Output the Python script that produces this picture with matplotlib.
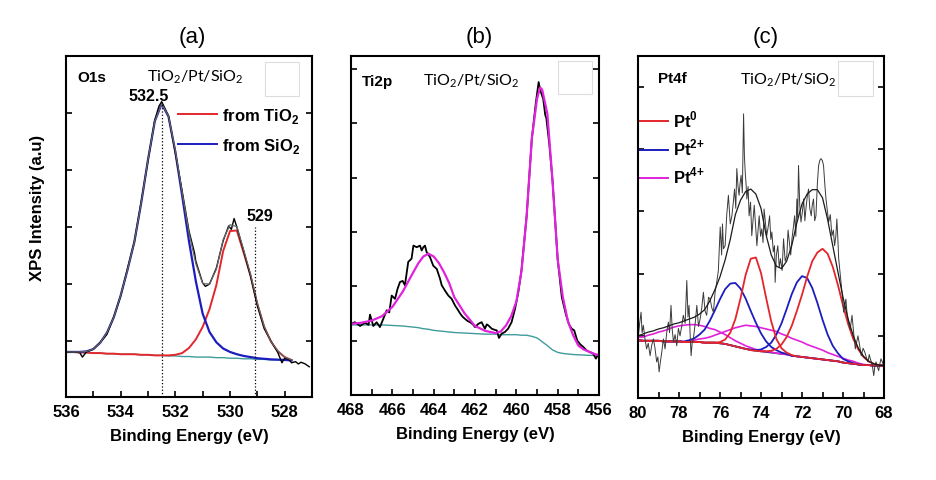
import matplotlib
matplotlib.use('Agg')
import matplotlib.pyplot as plt
from matplotlib.ticker import MultipleLocator
from matplotlib.patches import Rectangle

plt.rcParams['font.family'] = 'Liberation Sans'
plt.rcParams['font.weight'] = 'bold'

# ---------------- (a) O1s ----------------
o1s_fit_ev = [536.0, 535.75, 535.5, 535.25, 535.0, 534.75, 534.5, 534.25, 534.0, 533.75,
              533.5, 533.25, 533.0, 532.75, 532.5, 532.25, 532.0, 531.75, 531.5, 531.25,
              531.0, 530.75, 530.5, 530.25, 530.0, 529.75, 529.5, 529.25, 529.0, 528.75,
              528.5, 528.25, 528.0, 527.75]
o1s_base = [0.81, 0.81, 0.80, 0.80, 0.79, 0.79, 0.78, 0.78, 0.77, 0.77,
            0.77, 0.76, 0.76, 0.75, 0.75, 0.74, 0.74, 0.73, 0.73, 0.72,
            0.72, 0.72, 0.71, 0.71, 0.70, 0.70, 0.69, 0.69, 0.68, 0.68,
            0.67, 0.67, 0.67, 0.66]
o1s_sio2 = [0.81, 0.81, 0.81, 0.82, 0.86, 0.97, 1.15, 1.42, 1.80, 2.25,
            2.74, 3.42, 4.18, 4.86, 5.16, 4.94, 4.32, 3.55, 2.75, 2.05,
            1.48, 1.16, 0.98, 0.87, 0.81, 0.77, 0.74, 0.72, 0.70, 0.69,
            0.68, 0.675, 0.67, 0.66]
o1s_tio2 = [0.81, 0.81, 0.80, 0.80, 0.79, 0.79, 0.78, 0.78, 0.77, 0.77,
            0.77, 0.76, 0.76, 0.75, 0.75, 0.75, 0.76, 0.79, 0.88, 1.03,
            1.25, 1.56, 1.98, 2.58, 2.93, 2.94, 2.55, 2.15, 1.65, 1.25,
            0.99, 0.82, 0.72, 0.67]
o1s_envelope = [0.81, 0.81, 0.81, 0.82, 0.86, 0.97, 1.15, 1.42, 1.80, 2.25,
                2.74, 3.42, 4.18, 4.86, 5.16, 4.95, 4.34, 3.61, 2.90, 2.36,
                2.01, 2.00, 2.26, 2.78, 3.04, 3.01, 2.60, 2.18, 1.67, 1.26,
                0.99, 0.83, 0.72, 0.67]
o1s_data_ev = [536.0, 535.75, 535.5, 535.4, 535.25, 535.0, 534.75, 534.6, 534.5, 534.25,
               534.0, 533.75, 533.5, 533.25, 533.0, 532.75, 532.6, 532.5, 532.25, 532.0,
               531.75, 531.5, 531.3, 531.25, 531.0, 530.9, 530.75, 530.5, 530.25, 530.05,
               529.95, 529.85, 529.75, 529.5, 529.25, 529.0, 528.75, 528.5, 528.25, 528.1,
               528.0, 527.85, 527.75, 527.6, 527.5, 527.4, 527.25, 527.1]
o1s_data = [0.80, 0.81, 0.80, 0.72, 0.81, 0.86, 0.98, 1.06, 1.12, 1.43,
            1.79, 2.27, 2.74, 3.44, 4.17, 4.88, 5.12, 5.20, 4.95, 4.30,
            3.63, 2.93, 2.55, 2.40, 2.02, 1.96, 2.00, 2.28, 2.76, 3.02,
            2.96, 3.15, 3.00, 2.58, 2.14, 1.62, 1.22, 1.00, 0.80, 0.62,
            0.70, 0.68, 0.62, 0.64, 0.60, 0.63, 0.60, 0.55]
o1s_marker_ev = [532.5, 529.1]
o1s_marker_top = [5.19, 3.0]
o1s_marker_text = ['532.5', '529']

# ---------------- (b) Ti2p ----------------
ti_fit_ev = [468.0, 467.5, 467.0, 466.5, 466.0, 465.5, 465.0, 464.75, 464.5, 464.25,
             464.0, 463.75, 463.5, 463.25, 463.0, 462.5, 462.0, 461.5, 461.0, 460.75,
             460.5, 460.25, 460.0, 459.75, 459.5, 459.25, 459.0, 458.85, 458.75, 458.5,
             458.25, 458.0, 457.75, 457.5, 457.25, 457.0, 456.75, 456.5, 456.25, 456.0]
ti_base = [1.29, 1.29, 1.29, 1.29, 1.28, 1.27, 1.25, 1.24, 1.22, 1.21,
           1.19, 1.18, 1.17, 1.16, 1.15, 1.14, 1.13, 1.12, 1.12, 1.11,
           1.11, 1.11, 1.11, 1.10, 1.10, 1.08, 1.05, 1.01, 0.98, 0.91,
           0.83, 0.785, 0.765, 0.755, 0.745, 0.74, 0.735, 0.73, 0.73, 0.73]
ti_envelope = [1.31, 1.33, 1.37, 1.45, 1.62, 1.90, 2.25, 2.42, 2.55, 2.60,
               2.55, 2.43, 2.26, 2.06, 1.80, 1.50, 1.27, 1.18, 1.14, 1.17,
               1.28, 1.45, 1.72, 2.28, 3.30, 4.72, 5.45, 5.66, 5.62, 5.18,
               3.95, 2.50, 1.80, 1.35, 1.10, 0.91, 0.84, 0.80, 0.76, 0.73]
ti_data_ev = [468.0, 467.81, 467.56, 467.32, 467.15, 467.08, 466.92, 466.76, 466.6, 466.44,
              466.27, 466.15, 466.03, 465.87, 465.75, 465.63, 465.5, 465.39, 465.23, 465.07,
              464.98, 464.82, 464.66, 464.58, 464.5, 464.42, 464.34, 464.18, 464.02, 463.85,
              463.7, 463.61, 463.45, 463.29, 463.13, 462.97, 462.85, 462.72, 462.6, 462.48,
              462.35, 462.24, 462.1, 462.0, 461.84, 461.68, 461.52, 461.43, 461.35, 461.19,
              461.05, 460.95, 460.84, 460.71, 460.55, 460.4, 460.23, 460.06, 459.9, 459.75,
              459.5, 459.25, 459.05, 458.92, 458.85, 458.7, 458.6, 458.55, 458.4, 458.25,
              458.0, 457.8, 457.6, 457.45, 457.32, 457.2, 457.05, 456.9, 456.75, 456.6,
              456.45, 456.3, 456.15, 456.05]
ti_data = [1.31, 1.34, 1.27, 1.33, 1.29, 1.48, 1.27, 1.34, 1.25, 1.40,
           1.56, 1.52, 1.83, 1.77, 1.95, 2.08, 2.10, 2.02, 2.45, 2.51,
           2.75, 2.72, 2.75, 2.66, 2.72, 2.75, 2.63, 2.54, 2.38, 2.32,
           2.15, 2.02, 1.92, 1.83, 1.77, 1.65, 1.58, 1.50, 1.44, 1.40,
           1.36, 1.34, 1.30, 1.25, 1.31, 1.34, 1.22, 1.30, 1.28, 1.22,
           1.20, 1.19, 1.05, 1.13, 1.16, 1.22, 1.34, 1.59, 1.90, 2.30,
           3.30, 4.72, 5.40, 5.76, 5.62, 5.45, 5.15, 5.10, 4.60, 3.95,
           2.50, 1.80, 1.48, 1.30, 1.22, 1.19, 1.00, 0.93, 0.88, 0.82,
           0.79, 0.77, 0.67, 0.74]

# ---------------- (c) Pt4f ----------------
pt_fit_ev = [80.0, 79.75, 79.5, 79.25, 79.0, 78.75, 78.5, 78.25, 78.0, 77.75,
             77.5, 77.25, 77.0, 76.75, 76.5, 76.25, 76.0, 75.75, 75.5, 75.25,
             75.0, 74.75, 74.5, 74.25, 74.0, 73.75, 73.5, 73.25, 73.0, 72.75,
             72.5, 72.25, 72.0, 71.75, 71.5, 71.25, 71.0, 70.75, 70.5, 70.25,
             70.0, 69.75, 69.5, 69.25, 69.0, 68.75, 68.5, 68.25, 68.0]
pt_base = [0.93, 0.92, 0.92, 0.92, 0.92, 0.91, 0.91, 0.91, 0.91, 0.90,
           0.90, 0.90, 0.90, 0.89, 0.89, 0.89, 0.88, 0.87, 0.85, 0.83,
           0.81, 0.79, 0.77, 0.76, 0.75, 0.74, 0.73, 0.72, 0.71, 0.70,
           0.68, 0.67, 0.66, 0.65, 0.64, 0.63, 0.62, 0.61, 0.60, 0.59,
           0.57, 0.56, 0.55, 0.54, 0.53, 0.53, 0.52, 0.52, 0.52]
pt0_a = [0.93, 0.92, 0.92, 0.92, 0.92, 0.91, 0.91, 0.91, 0.91, 0.90,
         0.90, 0.90, 0.90, 0.89, 0.89, 0.89, 0.88, 0.87, 0.85, 0.83,
         0.81, 0.79, 0.77, 0.76, 0.75, 0.75, 0.76, 0.79, 0.86, 0.98,
         1.16, 1.40, 1.66, 1.95, 2.20, 2.34, 2.40, 2.32, 2.11, 1.82,
         1.49, 1.19, 0.95, 0.78, 0.66, 0.59, 0.55, 0.53, 0.52]
pt0_b = [0.93, 0.92, 0.92, 0.92, 0.92, 0.91, 0.91, 0.91, 0.91, 0.90,
         0.90, 0.90, 0.90, 0.89, 0.89, 0.89, 0.90, 0.94, 1.05, 1.27,
         1.60, 1.98, 2.24, 2.26, 2.01, 1.61, 1.23, 0.95, 0.80, 0.73,
         0.69, 0.67, 0.66, 0.65, 0.64, 0.63, 0.62, 0.61, 0.60, 0.59,
         0.57, 0.56, 0.55, 0.54, 0.53, 0.53, 0.52, 0.52, 0.52]
pt2_a = [0.93, 0.92, 0.92, 0.92, 0.92, 0.91, 0.91, 0.91, 0.91, 0.90,
         0.90, 0.90, 0.90, 0.89, 0.89, 0.89, 0.88, 0.87, 0.85, 0.83,
         0.81, 0.79, 0.78, 0.77, 0.78, 0.82, 0.89, 1.02, 1.20, 1.43,
         1.67, 1.86, 1.96, 1.93, 1.77, 1.53, 1.26, 1.02, 0.84, 0.72,
         0.63, 0.59, 0.56, 0.54, 0.53, 0.53, 0.52, 0.52, 0.52]
pt2_b = [0.93, 0.92, 0.92, 0.92, 0.92, 0.91, 0.91, 0.91, 0.91, 0.91,
         0.93, 0.96, 1.02, 1.10, 1.24, 1.41, 1.59, 1.75, 1.84, 1.85,
         1.76, 1.60, 1.40, 1.21, 1.04, 0.91, 0.82, 0.77, 0.73, 0.71,
         0.68, 0.67, 0.66, 0.65, 0.64, 0.63, 0.62, 0.61, 0.60, 0.59,
         0.57, 0.56, 0.55, 0.54, 0.53, 0.53, 0.52, 0.52, 0.52]
pt4_a = [0.93, 0.92, 0.92, 0.92, 0.92, 0.91, 0.91, 0.91, 0.91, 0.90,
         0.91, 0.93, 0.95, 0.96, 0.98, 1.01, 1.04, 1.07, 1.10, 1.13,
         1.15, 1.17, 1.16, 1.15, 1.13, 1.11, 1.09, 1.07, 1.03, 1.00,
         0.96, 0.93, 0.90, 0.86, 0.83, 0.80, 0.77, 0.73, 0.70, 0.67,
         0.64, 0.61, 0.59, 0.56, 0.54, 0.53, 0.52, 0.52, 0.52]
pt4_b = [0.98, 0.98, 1.01, 1.03, 1.06, 1.08, 1.11, 1.14, 1.16, 1.17,
         1.18, 1.18, 1.17, 1.15, 1.12, 1.10, 1.06, 1.02, 0.97, 0.92,
         0.88, 0.84, 0.81, 0.78, 0.77, 0.75, 0.74, 0.72, 0.71, 0.70,
         0.68, 0.67, 0.66, 0.65, 0.64, 0.63, 0.62, 0.61, 0.60, 0.59,
         0.57, 0.56, 0.55, 0.54, 0.53, 0.53, 0.52, 0.52, 0.52]
pt_envelope = [1.00, 1.03, 1.06, 1.08, 1.11, 1.13, 1.16, 1.19, 1.21, 1.24,
               1.27, 1.30, 1.35, 1.42, 1.56, 1.74, 1.95, 2.22, 2.55, 2.95,
               3.18, 3.32, 3.36, 3.28, 3.05, 2.62, 2.30, 2.12, 2.08, 2.20,
               2.45, 2.82, 3.12, 3.28, 3.35, 3.35, 3.22, 2.87, 2.45, 2.03,
               1.62, 1.27, 1.00, 0.80, 0.67, 0.59, 0.55, 0.53, 0.52]
pt_data_ev = [79.98, 79.92, 79.85, 79.80, 79.74, 79.66, 79.58, 79.50, 79.41, 79.33,
              79.25, 79.17, 79.09, 79.03, 78.97, 78.90, 78.84, 78.76, 78.68, 78.60,
              78.52, 78.46, 78.39, 78.33, 78.27, 78.19, 78.11, 78.03, 77.95, 77.87,
              77.79, 77.70, 77.62, 77.56, 77.51, 77.46, 77.41, 77.36, 77.30, 77.21,
              77.13, 77.05, 76.97, 76.89, 76.81, 76.73, 76.65, 76.56, 76.48, 76.40,
              76.32, 76.24, 76.16, 76.08, 75.99, 75.92, 75.88, 75.83, 75.75, 75.67,
              75.59, 75.50, 75.42, 75.35, 75.29, 75.23, 75.18, 75.12, 75.07, 75.02,
              74.97, 74.91, 74.85, 74.81, 74.77, 74.73, 74.69, 74.63, 74.58, 74.51,
              74.45, 74.39, 74.33, 74.26, 74.20, 74.14, 74.09, 74.02, 73.96, 73.90,
              73.85, 73.78, 73.72, 73.65, 73.58, 73.52, 73.47, 73.40, 73.34, 73.31,
              73.25, 73.18, 73.11, 73.05, 72.97, 72.90, 72.82, 72.74, 72.68, 72.62,
              72.55, 72.49, 72.42, 72.36, 72.30, 72.25, 72.21, 72.17, 72.11, 72.05,
              71.98, 71.92, 71.86, 71.81, 71.74, 71.68, 71.62, 71.55, 71.50, 71.44,
              71.38, 71.32, 71.25, 71.19, 71.13, 71.08, 71.01, 70.95, 70.89, 70.83,
              70.76, 70.70, 70.62, 70.54, 70.47, 70.41, 70.35, 70.30, 70.25, 70.21,
              70.14, 70.08, 70.02, 69.97, 69.91, 69.86, 69.80, 69.73, 69.65, 69.56,
              69.48, 69.40, 69.33, 69.27, 69.19, 69.11, 69.02, 68.94, 68.86, 68.78,
              68.72, 68.67, 68.58, 68.50, 68.45, 68.39, 68.32, 68.26, 68.20, 68.15,
              68.08, 68.02]
pt_data = [1.00, 1.20, 1.38, 1.05, 1.17, 0.95, 0.79, 0.88, 0.68, 0.85,
           0.95, 0.80, 0.58, 0.66, 0.42, 0.60, 0.74, 0.95, 0.79, 1.05,
           1.22, 1.05, 1.49, 1.10, 0.90, 1.02, 0.84, 1.12, 1.00, 1.15,
           1.33, 1.20, 1.89, 1.30, 1.49, 1.05, 0.68, 0.88, 0.95, 1.20,
           1.49, 1.15, 1.27, 1.45, 1.70, 1.40, 1.33, 1.62, 1.59, 1.45,
           1.38, 1.70, 1.86, 2.05, 2.75, 2.30, 2.80, 2.40, 2.45, 2.95,
           3.26, 2.80, 2.93, 3.15, 3.36, 3.05, 3.69, 3.40, 3.26, 3.45,
           3.58, 3.30, 4.57, 3.90, 3.63, 3.45, 3.20, 3.40, 2.93, 3.15,
           2.61, 2.85, 3.10, 2.75, 2.45, 2.70, 2.93, 2.60, 2.72, 2.50,
           3.04, 2.80, 2.61, 2.75, 2.93, 2.55, 2.67, 2.35, 2.45, 1.86,
           2.30, 2.45, 2.10, 2.24, 2.05, 2.56, 2.20, 2.29, 2.70, 2.51,
           2.30, 2.56, 2.75, 2.93, 2.60, 3.20, 2.90, 3.74, 3.10, 2.83,
           3.00, 3.20, 2.85, 3.04, 3.25, 3.36, 3.05, 2.93, 3.10, 3.20,
           2.85, 2.93, 3.45, 3.74, 3.82, 3.85, 3.82, 3.74, 3.45, 3.20,
           3.00, 2.83, 2.95, 2.61, 2.70, 2.45, 2.60, 2.88, 2.55, 2.24,
           2.00, 1.81, 1.60, 1.38, 1.50, 1.59, 1.35, 1.22, 1.10, 1.33,
           1.05, 0.79, 0.90, 1.00, 0.85, 0.68, 0.80, 0.74, 0.65, 0.58,
           0.70, 0.63, 0.55, 0.36, 0.50, 0.58, 0.50, 0.44, 0.55, 0.63,
           0.58, 0.52]
pt_legend = [r'Pt$^\mathregular{0}$', r'Pt$^{\mathregular{2{+}}}$', r'Pt$^{\mathregular{4{+}}}$']

sample_text = r'TiO$_\mathregular{2}$/Pt/SiO$_\mathregular{2}$'

RED = '#e3262b'
BLUE = '#1d1dbf'
MAGENTA = '#e022dc'
TEAL = '#3f9c9c'


def style_axes(ax, xlim, ylim, yticks):
    ax.set_xlim(xlim)
    ax.set_ylim(ylim)
    ax.xaxis.set_major_locator(MultipleLocator(2))
    ax.xaxis.set_minor_locator(MultipleLocator(1))
    ax.set_yticks(yticks)
    ax.tick_params(axis='both', which='both', direction='in', length=4, width=1.2,
                   top=False, right=True, labelleft=False)
    ax.tick_params(axis='x', labelsize=12, pad=5)
    for s in ax.spines.values():
        s.set_linewidth(1.5)
    ax.set_xlabel('Binding Energy (eV)', fontsize=12, fontweight='bold')
    ax.xaxis.set_label_coords(0.5, -0.092)


def empty_box(ax, x0, y0, w, h):
    ax.add_patch(Rectangle((x0, y0), w, h, transform=ax.transAxes, facecolor='white',
                           edgecolor='#dddddd', lw=0.8, zorder=1))


fig = plt.figure(figsize=(9.36, 4.81), dpi=100)
ax_a = fig.add_axes([66 / 936, 83 / 481, 246 / 936, 341 / 481])
ax_b = fig.add_axes([351 / 936, 85 / 481, 248 / 936, 339 / 481])
ax_c = fig.add_axes([638 / 936, 82 / 481, 246 / 936, 342 / 481])

# ---- panel a ----
ax_a.plot(o1s_fit_ev, o1s_base, color=TEAL, lw=1.0)
ax_a.plot(o1s_fit_ev, o1s_tio2, color=RED, lw=1.4)
ax_a.plot(o1s_fit_ev, o1s_sio2, color=BLUE, lw=1.6)
ax_a.plot(o1s_data_ev, o1s_data, color='black', lw=1.0)
ax_a.plot(o1s_fit_ev, o1s_envelope, color='#666666', lw=0.9)
ax_a.vlines(o1s_marker_ev, 0.02, o1s_marker_top, colors='black', linestyles=':', lw=0.9)
ax_a.text(532.98, 5.22, o1s_marker_text[0], ha='center', va='baseline', fontsize=11.5)
ax_a.text(528.9, 3.12, o1s_marker_text[1], ha='center', va='baseline', fontsize=11.5)
style_axes(ax_a, (536, 527), (0.02, 6.0), [1, 2, 3, 4, 5])
ax_a.text(0.045, 0.927, 'O1s', transform=ax_a.transAxes, fontsize=11, va='baseline')
ax_a.text(0.329, 0.930, sample_text, transform=ax_a.transAxes, fontsize=11.5,
          fontweight='normal', family='Lato', va='baseline')
empty_box(ax_a, 0.809, 0.883, 0.138, 0.10)
ax_a.plot([0.455, 0.614], [0.830, 0.830], color=RED, lw=1.4, transform=ax_a.transAxes)
ax_a.plot([0.455, 0.614], [0.742, 0.742], color=BLUE, lw=1.4, transform=ax_a.transAxes)
ax_a.text(0.634, 0.812, r'from TiO$_\mathregular{2}$', transform=ax_a.transAxes,
          fontsize=12, va='baseline')
ax_a.text(0.634, 0.725, r'from SiO$_\mathregular{2}$', transform=ax_a.transAxes,
          fontsize=12, va='baseline')

# ---- panel b ----
ax_b.plot(ti_fit_ev, ti_base, color=TEAL, lw=1.0)
ax_b.plot(ti_data_ev, ti_data, color='black', lw=1.3)
ax_b.plot(ti_fit_ev, ti_envelope, color=MAGENTA, lw=1.6)
style_axes(ax_b, (468, 456), (0.0, 6.24), [1, 2, 3, 4, 5, 6])
ax_b.text(0.044, 0.914, 'Ti2p', transform=ax_b.transAxes, fontsize=11, va='baseline')
ax_b.text(0.290, 0.917, sample_text, transform=ax_b.transAxes, fontsize=11.5,
          fontweight='normal', family='Lato', va='baseline')
empty_box(ax_b, 0.835, 0.888, 0.137, 0.097)

# ---- panel c ----
ax_c.plot(pt_fit_ev, pt_base, color='#2b1f5e', lw=1.2)
ax_c.plot(pt_fit_ev, pt4_b, color=MAGENTA, lw=1.2)
ax_c.plot(pt_fit_ev, pt4_a, color=MAGENTA, lw=1.2)
ax_c.plot(pt_fit_ev, pt2_b, color=BLUE, lw=1.3)
ax_c.plot(pt_fit_ev, pt2_a, color=BLUE, lw=1.3)
ax_c.plot(pt_fit_ev, pt0_b, color=RED, lw=1.3)
ax_c.plot(pt_fit_ev, pt0_a, color=RED, lw=1.3)
ax_c.plot(pt_data_ev, pt_data, color='#3a3a3a', lw=0.7)
ax_c.plot(pt_fit_ev, pt_envelope, color='#1a1a1a', lw=0.9)
style_axes(ax_c, (80, 68), (0.0, 5.5), [1, 2, 3, 4, 5])
ax_c.text(0.081, 0.924, 'Pt4f', transform=ax_c.transAxes, fontsize=11, va='baseline')
ax_c.text(0.415, 0.921, sample_text, transform=ax_c.transAxes, fontsize=11.5,
          fontweight='normal', family='Lato', va='baseline')
empty_box(ax_c, 0.813, 0.883, 0.142, 0.102)
for lbl, col, ly, ty in zip(pt_legend, [RED, BLUE, MAGENTA],
                            [0.810, 0.725, 0.643], [0.794, 0.711, 0.629]):
    ax_c.plot([0.0, 0.122], [ly, ly], color=col, lw=1.4, transform=ax_c.transAxes)
    ax_c.text(0.142, ty, lbl, transform=ax_c.transAxes, fontsize=12, va='baseline')

# panel titles and shared y label
fig.text(192 / 936, 1 - 38 / 481, '(a)', ha='center', va='center', fontsize=16, fontweight='normal')
fig.text(479 / 936, 1 - 38 / 481, '(b)', ha='center', va='center', fontsize=16, fontweight='normal')
fig.text(766 / 936, 1 - 38 / 481, '(c)', ha='center', va='center', fontsize=16, fontweight='normal')
fig.text(38 / 936, 1 - 207.5 / 481, 'XPS Intensity (a.u)', rotation=90, ha='center',
         va='center', fontsize=12)

fig.savefig('out.png', dpi=100)
